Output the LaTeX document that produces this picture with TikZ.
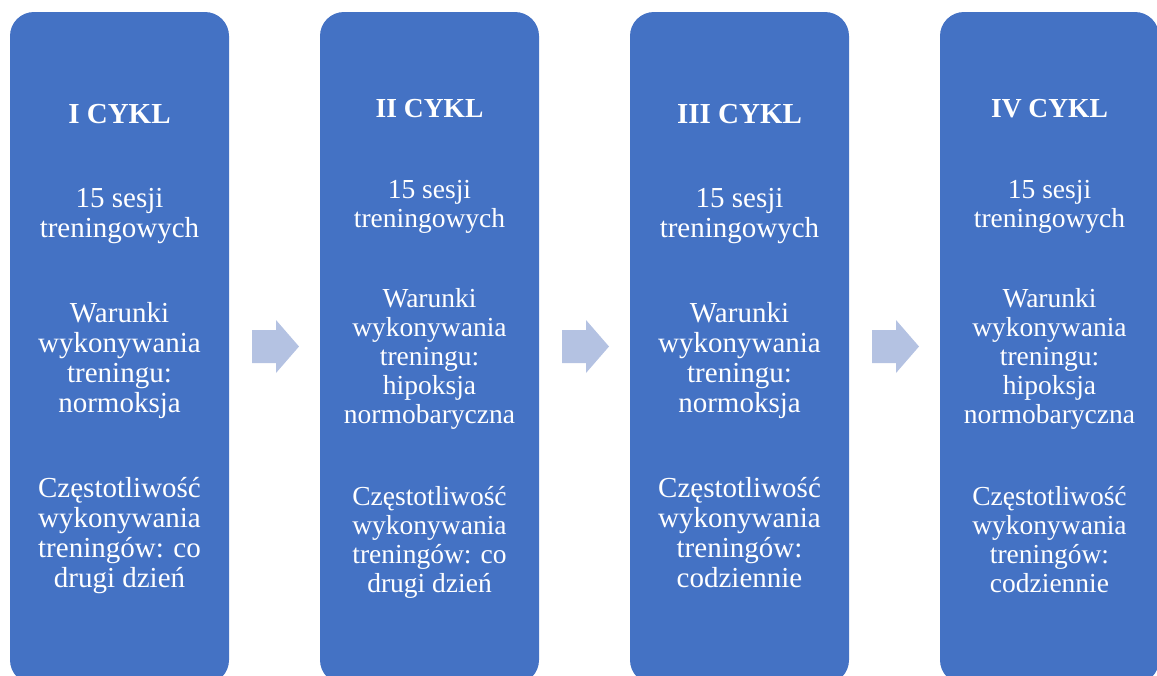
\documentclass[tikz,border=0pt]{standalone}
\usepackage{fontspec}
\setmainfont{Liberation Serif}
\definecolor{boxblue}{HTML}{4472C4}
\definecolor{arrblue}{HTML}{B4C2E2}
\tikzset{
  cyclebox/.style={fill=boxblue, draw=none, rounded corners=24pt},
  bigtxt/.style={text=white, align=center, anchor=base, inner sep=0pt, font=\fontsize{29}{30}\selectfont},
  smalltxt/.style={text=white, align=center, anchor=base, inner sep=0pt, font=\fontsize{27.5}{29}\selectfont},
  bigtitle/.style={text=white, anchor=base, inner sep=0pt, font=\fontsize{29}{30}\selectfont\bfseries},
  smalltitle/.style={text=white, anchor=base, inner sep=0pt, font=\fontsize{27.5}{29}\selectfont\bfseries},
  flowarrow/.style={fill=arrblue, draw=none}
}
\begin{document}
\begin{tikzpicture}[x=1pt,y=-1pt]
\useasboundingbox (0,0) rectangle (1157,675);
\clip (0,0) rectangle (1157,675);
% boxes
\path[cyclebox] (10,12) rectangle (229,684);
\path[cyclebox] (320,12) rectangle (539,684);
\path[cyclebox] (630,12) rectangle (849,684);
\path[cyclebox] (940,12) rectangle (1159,684);
% arrows
\foreach \dx in {0,310,620} {
  \path[flowarrow] (252+\dx,330) -- (276+\dx,330) -- (276+\dx,320) -- (299+\dx,346.5)
    -- (276+\dx,373) -- (276+\dx,363) -- (252+\dx,363) -- cycle;
}
% box 1 (anchor = baseline of last line)
\node[bigtitle] (t1) at (119.5,123) {I CYKL};
\node[bigtxt] (s1) at (119.5,237) {15 sesji\\treningowych};
\node[bigtxt] (w1) at (119.5,412) {Warunki\\wykonywania\\treningu:\\normoksja};
\node[bigtxt] (c1) at (119.5,587) {Częstotliwość\\wykonywania\\treningów: co\\drugi dzień};
% box 2
\node[smalltitle] (t2) at (429.5,117) {II CYKL};
\node[smalltxt] (s2) at (429.5,227) {15 sesji\\treningowych};
\node[smalltxt] (w2) at (429.5,423) {Warunki\\wykonywania\\treningu:\\hipoksja\\normobaryczna};
\node[smalltxt] (c2) at (429.5,592) {Częstotliwość\\wykonywania\\treningów: co\\drugi dzień};
% box 3
\node[bigtitle] (t3) at (739.5,123) {III CYKL};
\node[bigtxt] (s3) at (739.5,237) {15 sesji\\treningowych};
\node[bigtxt] (w3) at (739.5,412) {Warunki\\wykonywania\\treningu:\\normoksja};
\node[bigtxt] (c3) at (739.5,587) {Częstotliwość\\wykonywania\\treningów:\\codziennie};
% box 4
\node[smalltitle] (t4) at (1049.5,117) {IV CYKL};
\node[smalltxt] (s4) at (1049.5,227) {15 sesji\\treningowych};
\node[smalltxt] (w4) at (1049.5,423) {Warunki\\wykonywania\\treningu:\\hipoksja\\normobaryczna};
\node[smalltxt] (c4) at (1049.5,592) {Częstotliwość\\wykonywania\\treningów:\\codziennie};
\end{tikzpicture}
\end{document}
